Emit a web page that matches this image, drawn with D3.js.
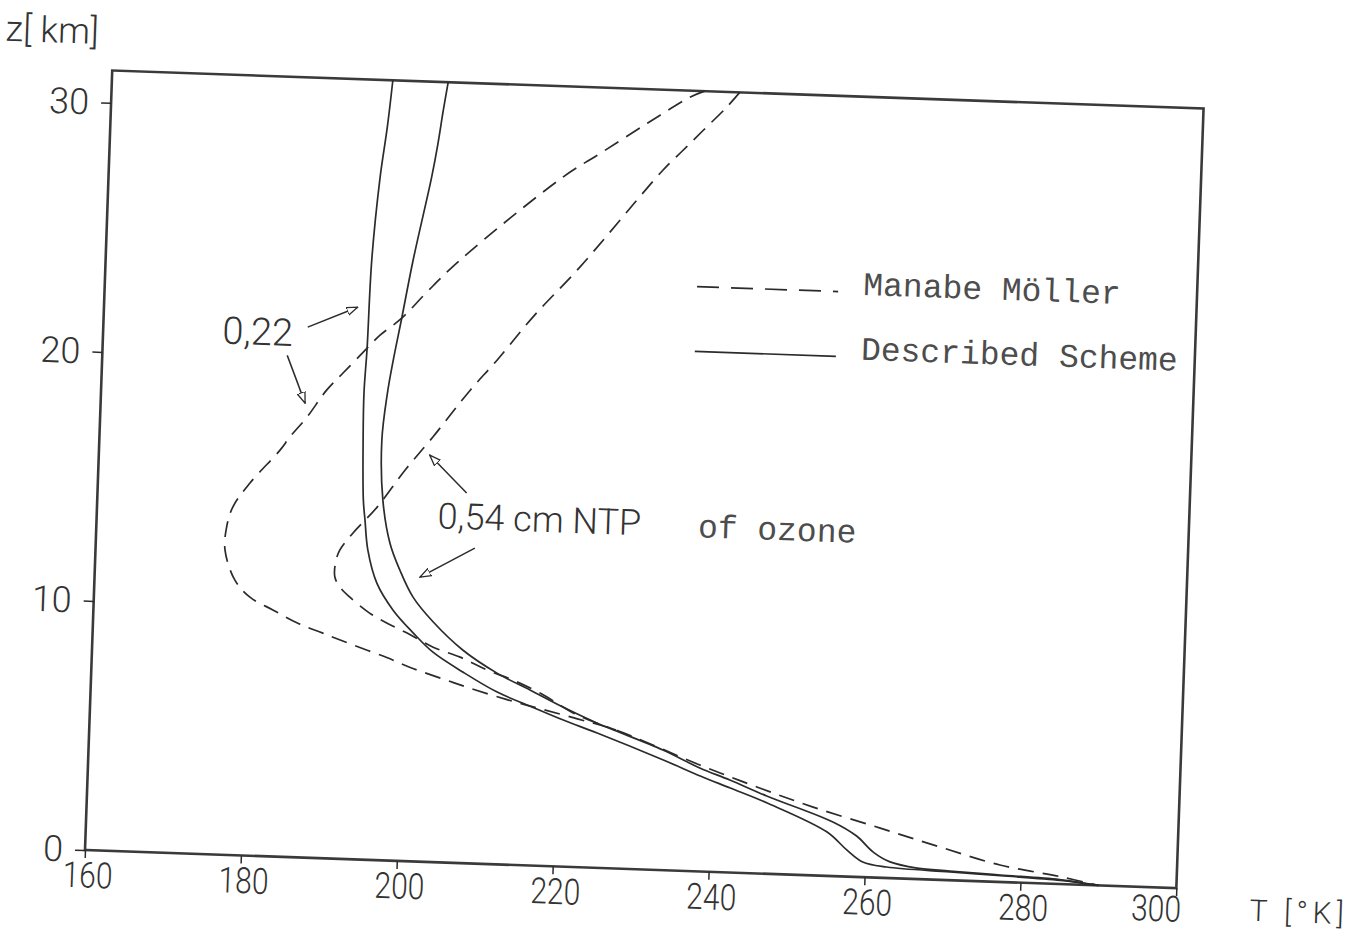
<!DOCTYPE html>
<html>
<head>
<meta charset="utf-8">
<script src="https://cdn.jsdelivr.net/npm/d3@7"></script>
<style>
  body { margin: 0; background: #fff; }
  svg { display: block; }
  .sans { font-family: Roboto, "DejaVu Sans", sans-serif; font-weight: 300; fill: #333; }
  .mono { font-family: "Liberation Mono", "DejaVu Sans Mono", monospace; fill: #4d4d4d; }
</style>
</head>
<body>
<svg width="1370" height="933"></svg>
<script>
// temperature T [K] and height z [km]
const mm022T = [236.0, 234.1, 228.8, 222.9, 218.2, 205.4, 201.3, 198.2, 195.5, 193.9, 190.9, 188.9, 186.5, 184.4, 183.2, 179.5, 177.4, 176.7, 176.6, 178.0, 180.0, 183.0, 186.2, 189.5, 193.4, 197.8, 201.2, 205.1, 208.6, 213.4, 217.7, 222.5, 227.5, 238.4, 245.8, 253.1, 261.8, 269.5, 277.3, 285.0, 290.0]
const mm022Z = [31.3, 31.03, 29.93, 28.66, 27.65, 24.18, 22.85, 21.77, 21.06, 20.52, 19.48, 18.78, 17.67, 16.85, 16.31, 14.95, 13.96, 13.15, 12.22, 11.03, 10.37, 9.89, 9.40, 9.03, 8.6, 8.14, 7.74, 7.36, 7.03, 6.62, 6.3, 5.95, 5.55, 4.27, 3.47, 2.74, 1.99, 1.32, 0.68, 0.3, 0.0]

// joins the 0.22 curve at its last point, below that both coincide
const mm054T = [240.5, 238.9, 236.0, 233.5, 231.0, 220.8, 215.0, 210.6, 207.3, 202.7, 199.3, 195.9, 192.9, 191.3, 190.8, 190.8, 191.5, 192.8, 195.4, 197.7, 200.3, 203.7, 207.2, 210.7, 214.1, 217.6, 222.5, 227.5]
const mm054Z = [31.3, 30.69, 29.73, 28.9, 28.07, 24.07, 22.0, 20.22, 18.98, 17.04, 15.68, 14.16, 13.08, 12.38, 11.85, 11.29, 10.9, 10.51, 9.9, 9.52, 9.15, 8.62, 8.26, 7.78, 7.41, 6.93, 6.1, 5.55]

const ds022T = [196.0, 195.5, 194.8, 194.1, 193.9, 193.7, 193.8, 194.1, 194.4, 194.9, 196.2, 198.4, 201.1, 203.7, 207.6, 212.1, 216.4, 220.7, 225.1, 233.7, 238.5, 242.4, 247.2, 255.0, 257.6, 259.7, 262.8, 270.9, 277.4, 285.1, 290.0]
const ds022Z = [31.3, 29.41, 27.39, 24.05, 20.52, 18.71, 16.83, 14.42, 13.62, 12.42, 11.11, 10.05, 9.16, 8.42, 7.67, 6.91, 6.39, 5.88, 5.41, 4.42, 3.83, 3.39, 2.84, 1.76, 1.07, 0.61, 0.44, 0.33, 0.25, 0.15, 0.0]

const ds054T = [203.1, 202.6, 202.0, 201.4, 199.4, 198.2, 197.3, 196.7, 196.2, 196.6, 197.7, 199.1, 200.9, 203.6, 207.5, 212.0, 216.3, 220.6, 225.0, 233.6, 238.4, 242.3, 247.1, 255.7, 258.8, 261.0, 263.2, 266.7, 270.9, 277.4, 285.0, 290.0]
const ds054Z = [31.3, 30.17, 28.68, 27.46, 24.11, 21.77, 20.07, 18.74, 16.85, 14.45, 12.73, 11.66, 10.6, 9.63, 8.55, 7.67, 7.04, 6.4, 5.81, 4.82, 4.15, 3.71, 3.12, 2.17, 1.64, 1.02, 0.65, 0.44, 0.37, 0.28, 0.18, 0.0]

const xTicks = [160, 180, 200, 220, 240, 260, 280, 300]
const yTicks = [0, 10, 20, 30]
const legendNames = ["Manabe Möller", "Described Scheme"]

// annotation arrows [fromT, fromZ, toT, toZ]
const arrows = [
    [186.2, 21.28, 192.5, 22.15],
    [183.7, 20.12, 186.2, 18.23],
    [207.3, 14.85, 202.4, 16.32],
    [208.6, 12.65, 201.7, 11.41]
]

const width = 1092, height = 780
const svg = d3.select("svg")

// the scan is tilted by about 2 degrees
const g = svg.append("g").attr("transform", "translate(85,850) rotate(2)")

const x = d3.scaleLinear().domain([160, 300]).range([0, width])
const y = d3.scaleLinear().domain([0, 31.3]).range([0, -height])

const ink = "#2b2b2b"

// frame
g.append("rect")
    .attr("x", 0).attr("y", -height)
    .attr("width", width).attr("height", height)
    .attr("fill", "none").attr("stroke", "#3a3a3a").attr("stroke-width", 2.6)

// axes
const xAxis = g.append("g")
    .call(d3.axisBottom(x).tickValues(xTicks).tickSize(8).tickPadding(4).tickFormat(d3.format("d")))
xAxis.select(".domain").remove()
xAxis.selectAll("line").attr("stroke", ink).attr("stroke-width", 1.5)
xAxis.selectAll("text")
    .attr("class", "sans")
    .attr("font-size", 36)
    .attr("textLength", 50)
    .attr("lengthAdjust", "spacingAndGlyphs")
    .attr("dx", d => d == 300 ? -20 : 3)
    .attr("y", d => d == 300 ? 8 : 12)

const yAxis = g.append("g")
    .call(d3.axisLeft(y).tickValues(yTicks).tickSize(10).tickPadding(12))
yAxis.select(".domain").remove()
yAxis.selectAll("line").attr("stroke", ink).attr("stroke-width", 1.5)
yAxis.selectAll("text").attr("class", "sans").attr("font-size", 36)

// axis titles
g.append("text").attr("class", "sans")
    .attr("x", -108).attr("y", -806)
    .attr("font-size", 36)
    .text("z[ km]")

g.append("text").attr("class", "sans")
    .attr("x", width + 74).attr("y", 30)
    .attr("font-size", 30).attr("letter-spacing", 5)
    .text("T [°K]")

// curves
const line = d3.line()
    .x(d => x(d[0]))
    .y(d => y(d[1]))
    .curve(d3.curveCatmullRom.alpha(0.5))

const curves = [
    { t: mm022T, z: mm022Z, dash: "16,9" },
    { t: mm054T, z: mm054Z, dash: "16,9" },
    { t: ds022T, z: ds022Z, dash: null },
    { t: ds054T, z: ds054Z, dash: null }
]

g.selectAll(".curve")
    .data(curves)
    .enter()
    .append("path")
    .attr("class", "curve")
    .attr("d", c => line(d3.zip(c.t, c.z)))
    .attr("fill", "none")
    .attr("stroke", ink)
    .attr("stroke-width", 1.7)
    .attr("stroke-dasharray", c => c.dash)

// arrowheads
svg.append("defs").append("marker")
    .attr("id", "head")
    .attr("viewBox", "0 -5 12 10")
    .attr("refX", 11).attr("refY", 0)
    .attr("markerWidth", 12).attr("markerHeight", 10)
    .attr("markerUnits", "userSpaceOnUse")
    .attr("orient", "auto")
    .append("path")
    .attr("d", "M0,-4L11,0L0,4Z")
    .attr("fill", "#fff").attr("stroke", ink).attr("stroke-width", 1.3)

g.selectAll(".arrow")
    .data(arrows)
    .enter()
    .append("line")
    .attr("class", "arrow")
    .attr("x1", d => x(d[0])).attr("y1", d => y(d[1]))
    .attr("x2", d => x(d[2])).attr("y2", d => y(d[3]))
    .attr("stroke", ink).attr("stroke-width", 1.5)
    .attr("marker-end", "url(#head)")

// annotations
g.append("text").attr("class", "sans")
    .attr("x", x(175.3)).attr("y", y(20.5))
    .attr("font-size", 38)
    .text("0,22")

g.append("text").attr("class", "sans")
    .attr("x", x(203.7)).attr("y", y(13.4))
    .attr("font-size", 36)
    .text("0,54 cm NTP")

g.append("text").attr("class", "mono")
    .attr("x", x(237.1)).attr("y", y(13.4))
    .attr("font-size", 33)
    .text("of ozone")

// legend
const legend = g.append("g")
const legendZ = [23.3, 20.7]
legend.selectAll("line")
    .data(legendNames)
    .enter()
    .append("line")
    .attr("x1", x(235.9)).attr("x2", x(254.0))
    .attr("y1", (d, i) => y(legendZ[i] + 0.15)).attr("y2", (d, i) => y(legendZ[i] + 0.15))
    .attr("stroke", ink).attr("stroke-width", 1.7)
    .attr("stroke-dasharray", (d, i) => i == 0 ? "22,12" : null)
legend.selectAll("text")
    .data(legendNames)
    .enter()
    .append("text")
    .attr("class", "mono")
    .attr("x", x(257.2))
    .attr("y", (d, i) => y(legendZ[i] + 0.05))
    .attr("font-size", 33)
    .text(d => d)
</script>
</body>
</html>
